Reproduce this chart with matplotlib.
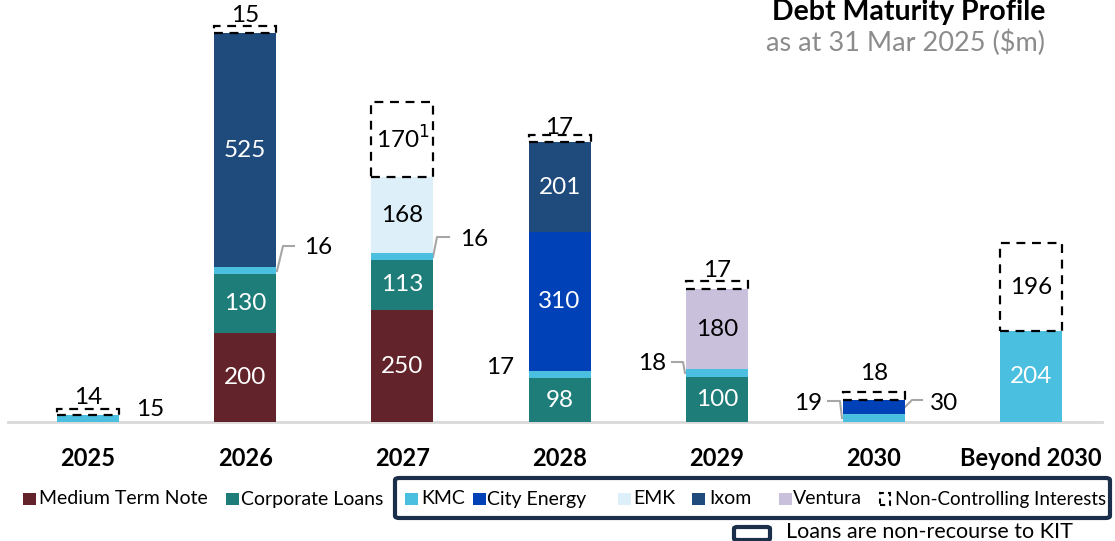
import matplotlib
matplotlib.use("Agg")
import matplotlib.pyplot as plt
from matplotlib.patches import Rectangle, FancyBboxPatch
import numpy as np

plt.rcParams['font.family'] = ['Lato', 'DejaVu Sans']

# ---------------- data ----------------
years = ["2025", "2026", "2027", "2028", "2029", "2030", "Beyond 2030"]
mtn       = [0, 200, 250, 0, 0, 0, 0]
corp      = [0, 130, 113, 98, 100, 0, 0]
kmc       = [15, 16, 16, 17, 18, 19, 204]
city      = [0, 0, 0, 310, 0, 30, 0]
emk       = [0, 0, 168, 0, 0, 0, 0]
ixom      = [0, 525, 0, 201, 0, 0, 0]
ventura   = [0, 0, 0, 0, 180, 0, 0]
nci       = [14, 15, 170, 17, 17, 18, 196]
nci_text  = ["14", "15", "170$^{1}$", "17", "17", "18", "196"]

series = [
    ("Medium Term Note", mtn, "#62242A", "white"),
    ("Corporate Loans", corp, "#1E7D79", "white"),
    ("KMC", kmc, "#4BBFDF", "white"),
    ("City Energy", city, "#0041B8", "white"),
    ("EMK", emk, "#DDEFF8", "black"),
    ("Ixom", ixom, "#1F4A7C", "white"),
    ("Ventura", ventura, "#C9C1DC", "black"),
]

# ---------------- layout helpers (pixel -> data) ----------------
W, H = 1115, 541
X0, DX = 88, 157.2      # pixel centre of first bar, spacing
Y0, SY = 422, 0.447     # baseline pixel row, px per $m
VAL_FS = 17.5

def X(px):
    return (px - X0) / DX

def Y(py):
    return (Y0 - py) / SY

fig = plt.figure(figsize=(W / 100, H / 100), dpi=100)
ax = fig.add_axes([0, 0, 1, 1])
ax.set_xlim(X(0), X(W))
ax.set_ylim(Y(H), Y(0))
ax.axis("off")

x = np.arange(len(years))
width = 62 / DX
bottom = np.zeros(len(years))

for name, vals, col, tcol in series:
    vals = np.array(vals, dtype=float)
    ax.bar(x, vals, width, bottom=bottom, color=col, linewidth=0, zorder=2)
    for i, v in enumerate(vals):
        if v >= 90:
            ax.text(x[i], bottom[i] + v / 2, f"{int(v)}", color=tcol,
                    ha="center", va="center", fontsize=VAL_FS, zorder=4)
    bottom += vals

# non-controlling interests: dashed boxes
ax.bar(x, nci, width, bottom=bottom, facecolor="white", edgecolor="black",
       linestyle=(0, (4, 3)), linewidth=1.6, zorder=3)
nci_above = [12, 10, None, 7, 11, 19, None]
for i, v in enumerate(nci):
    if nci_above[i] is None:
        ax.text(x[i], bottom[i] + v / 2, nci_text[i], ha="center", va="center",
                fontsize=VAL_FS, zorder=4)
    else:
        ax.text(x[i], bottom[i] + v + nci_above[i] / SY, nci_text[i],
                ha="center", va="center", fontsize=VAL_FS, zorder=4)

# baseline
ax.plot([X(8), X(1102)], [0, 0], color="#D9D9D9", linewidth=2, zorder=1)

# year labels
for i, yr in enumerate(years):
    ax.text(x[i], Y(458), yr, ha="center", va="center", fontsize=17,
            fontweight="bold")

# callouts for small segments
callouts = [
    ("15", (150, 409), None),
    ("16", (318, 247), [(277, 271), (283, 246), (294, 246)]),
    ("16", (474, 240), [(433, 257), (437, 237), (449, 237)]),
    ("17", (500, 368), None),
    ("18", (652, 363), [(685, 373), (683, 362), (672, 362)]),
    ("19", (808, 403), [(842, 418), (840, 401), (828, 401)]),
    ("30", (944, 403), [(905, 407), (912, 400), (922, 400)]),
]
for txt, (tx, ty), path in callouts:
    ax.text(X(tx), Y(ty), txt, ha="center", va="center", fontsize=VAL_FS)
    if path:
        ax.plot([X(p[0]) for p in path], [Y(p[1]) for p in path],
                color="#A6A6A6", linewidth=1.5, zorder=1)

# title
fig.text(1045 / W, 1 - 12 / H, "Debt Maturity Profile", ha="right",
         va="center", fontsize=20.5, fontweight="bold")
fig.text(1045 / W, 1 - 43 / H, "as at 31 Mar 2025 ($m)", ha="right",
         va="center", fontsize=19.5, color="#8C8C8C")

# legend
def fx(px):
    return px / W

def fy(py):
    return 1 - py / H

leg_y = 499
items = [
    ("Medium Term Note", "#62242A", 23, 39),
    ("Corporate Loans", "#1E7D79", 226, 241),
    ("KMC", "#4BBFDF", 405, 421),
    ("City Energy", "#0041B8", 473, 487),
    ("EMK", "#DDEFF8", 618, 633),
    ("Ixom", "#1F4A7C", 692, 709),
    ("Ventura", "#C9C1DC", 779, 793),
]
sq = 12.5
for label, col, mx, tx in items:
    fig.patches.append(Rectangle((fx(mx), fy(leg_y + sq / 2)), sq / W, sq / H,
                                 transform=fig.transFigure, facecolor=col,
                                 edgecolor="none"))
    fig.text(fx(tx), fy(leg_y), label, ha="left", va="center", fontsize=14)

fig.patches.append(Rectangle((fx(880), fy(leg_y + 6)), 10 / W, 12 / H,
                             transform=fig.transFigure, facecolor="none",
                             edgecolor="black", linestyle=(0, (2.5, 2)),
                             linewidth=1.5))
fig.text(fx(895), fy(leg_y), "Non-Controlling Interests", ha="left",
         va="center", fontsize=13.5)

fig.patches.append(FancyBboxPatch((fx(395), fy(518)), (1110 - 395) / W,
                                  40 / H, boxstyle="round,pad=0,rounding_size=0.004",
                                  transform=fig.transFigure, facecolor="none",
                                  edgecolor="#1B2F4B", linewidth=3))
fig.patches.append(FancyBboxPatch((fx(734), fy(540)), 36 / W, 13 / H,
                                  boxstyle="round,pad=0,rounding_size=0.003",
                                  transform=fig.transFigure, facecolor="none",
                                  edgecolor="#1B2F4B", linewidth=3))
fig.text(fx(786), fy(532), "Loans are non-recourse to KIT", ha="left",
         va="center", fontsize=15.5)

fig.savefig("out.png", dpi=100)
